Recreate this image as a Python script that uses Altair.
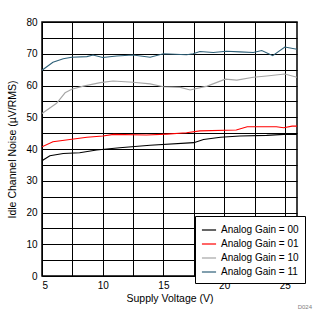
import altair as alt
import pandas as pd

series_names = ["Analog Gain = 00", "Analog Gain = 01", "Analog Gain = 10", "Analog Gain = 11"]
colors = ["#000000", "#FF0000", "#A6A6A6", "#2E6078"]

g00_x = [5.0, 5.65, 6.75, 8.1, 9.5, 11.4, 13.9, 17.5, 18.3, 19.7, 21.3, 23.5, 24.9, 26.0]
g00_y = [36.3, 37.9, 38.6, 38.8, 39.7, 40.4, 41.2, 42.0, 43.0, 43.7, 44.1, 44.3, 44.6, 44.6]

g01_x = [5.0, 5.9, 7.3, 8.7, 10.0, 10.9, 13.6, 15.3, 16.9, 18.0, 21.0, 21.9, 24.3, 24.9, 25.6, 26.0]
g01_y = [40.7, 42.3, 43.0, 43.7, 44.1, 44.6, 44.4, 44.7, 45.1, 45.7, 46.0, 47.0, 47.0, 46.7, 47.2, 47.2]

g10_x = [5.0, 6.2, 6.9, 7.45, 8.4, 9.8, 10.85, 12.5, 13.9, 15.0, 16.4, 17.2, 18.6, 20.1, 21.05, 22.4, 23.5, 25.0, 26.0]
g10_y = [51.2, 54.4, 57.7, 58.8, 59.8, 60.9, 61.4, 61.0, 60.5, 59.6, 59.4, 58.6, 59.8, 62.0, 61.7, 62.6, 63.0, 63.6, 62.6]

g11_x = [5.0, 5.9, 6.75, 7.45, 8.7, 9.2, 10.0, 11.15, 12.5, 13.9, 15.0, 16.9, 17.45, 18.0, 19.1, 20.2, 21.3, 22.4, 23.1, 24.0, 25.0, 26.0]
g11_y = [64.8, 67.3, 68.4, 68.9, 69.1, 69.6, 68.8, 69.3, 69.6, 68.9, 70.0, 69.7, 70.0, 70.7, 70.4, 70.8, 70.6, 70.4, 71.0, 69.4, 72.1, 71.4]

rows = []
for name, xs, ys in zip(series_names, [g00_x, g01_x, g10_x, g11_x], [g00_y, g01_y, g10_y, g11_y]):
    for x, y in zip(xs, ys):
        rows.append({"v": x, "noise": y, "series": name})
df = pd.DataFrame(rows)

FONT = "Liberation Sans"
x_grid = [5, 7.5, 10, 12.5, 15, 17.5, 20, 22.5, 25]
y_grid = list(range(0, 81, 5))

lines = alt.Chart(df).mark_line(strokeWidth=1.1, clip=True).encode(
    x=alt.X("v:Q", scale=alt.Scale(domain=[5, 26], nice=False, zero=False),
            axis=alt.Axis(values=x_grid, title="Supply Voltage (V)",
                          labelExpr="datum.value % 5 == 0 ? datum.label : ''",
                          grid=True, gridColor="#000000", gridOpacity=1, gridWidth=1,
                          ticks=False, domain=False, labelPadding=4,
                          labelFont=FONT, labelFontSize=10, labelColor="#000000",
                          titleFont=FONT, titleFontSize=10.5, titleFontWeight="normal",
                          titleColor="#000000", titlePadding=3)),
    y=alt.Y("noise:Q", scale=alt.Scale(domain=[0, 80], nice=False),
            axis=alt.Axis(values=y_grid, title="Idle Channel Noise (µV/RMS)",
                          labelExpr="datum.value % 10 == 0 ? datum.label : ''",
                          grid=True, gridColor="#000000", gridOpacity=1, gridWidth=1,
                          ticks=False, domain=False, labelPadding=5,
                          labelFont=FONT, labelFontSize=10, labelColor="#000000",
                          titleFont=FONT, titleFontSize=10.5, titleFontWeight="normal",
                          titleColor="#000000", titlePadding=8)),
    color=alt.Color("series:N", scale=alt.Scale(domain=series_names, range=colors),
                    legend=alt.Legend(title=None, orient="none", legendX=153, legendY=194,
                                      fillColor="#FFFFFF", strokeColor="#000000",
                                      padding=6, symbolType="stroke", symbolSize=200,
                                      symbolStrokeWidth=1.2, rowPadding=1,
                                      labelFont=FONT, labelFontSize=10, labelColor="#000000",
                                      labelLimit=200, offset=0)),
)

code = alt.Chart(pd.DataFrame({"t": ["D024"]})).mark_text(
    font=FONT, fontSize=6, color="#808080", align="right", baseline="middle"
).encode(x=alt.value(270), y=alt.value(285), text="t:N")

chart = alt.layer(lines, code).properties(
    width=255, height=254,
    autosize=alt.AutoSizeParams(type="none"),
    padding={"left": 42, "top": 22, "right": 29, "bottom": 52},
).configure_view(stroke="#000000", strokeWidth=1.5)

chart.save("out.html", embed_options={"renderer": "svg", "actions": False})
